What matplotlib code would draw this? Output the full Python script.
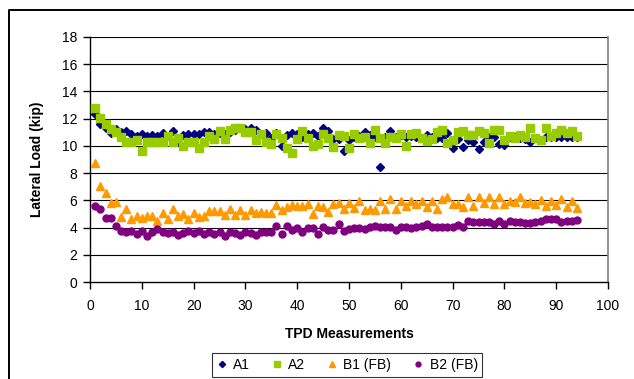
import matplotlib
matplotlib.use("Agg")
import matplotlib.pyplot as plt
from matplotlib.lines import Line2D
import numpy as np

plt.rcParams['font.family'] = ['Liberation Sans', 'DejaVu Sans']

# TPD measurement number 1..94
x = np.arange(1, 95)

a1 = [12.35, 11.6, 11.3, 10.95, 11.25, 11.05, 11.1, 10.9, 10.75, 10.85,
      10.75, 10.8, 10.7, 10.95, 10.75, 11.1, 10.3, 10.8, 10.9, 10.9,
      10.85, 11.05, 11.0, 10.85, 10.95, 10.9, 11.0, 11.2, 11.35, 11.25,
      11.3, 11.2, 10.85, 10.95, 10.6, 10.95, 10.0, 10.8, 10.95, 10.85,
      10.67, 10.84, 10.92, 10.72, 11.28, 11.11, 10.48, 10.48, 9.59, 10.43,
      10.67, 10.72, 10.99, 10.80, 10.67, 8.46, 10.63, 11.08, 10.63, 10.80,
      10.67, 10.72, 10.63, 10.55, 10.80, 10.67, 10.55, 10.55, 10.96, 9.83,
      10.48, 9.90, 10.43, 10.31, 9.76, 10.31, 10.63, 10.63, 10.14, 10.07,
      10.63, 10.63, 10.55, 10.48, 10.31, 10.55, 10.43, 10.67, 10.63, 10.67,
      10.67, 10.63, 10.67, 10.67]

a2 = [12.8, 12.03, 11.6, 11.25, 11.0, 10.66, 10.3, 10.25, 10.44, 9.66,
      10.3, 10.25, 10.3, 10.25, 10.7, 10.25, 10.56, 10.0, 10.3, 10.27,
      9.88, 10.3, 10.74, 10.49, 11.1, 10.49, 11.18, 11.35, 11.3, 11.05,
      11.0, 10.44, 10.88, 10.25, 10.12, 10.87, 10.56, 9.83, 9.46, 10.5,
      11.11, 10.55, 10.02, 10.14, 10.87, 10.55, 9.90, 10.80, 10.72, 9.83,
      10.87, 10.55, 10.67, 10.19, 11.16, 10.55, 10.19, 10.67, 10.60, 10.87,
      10.02, 10.84, 10.96, 10.55, 10.39, 10.48, 11.04, 11.20, 10.19, 10.43,
      11.04, 11.11, 10.80, 10.80, 11.11, 10.96, 10.24, 11.16, 11.20, 10.43,
      10.75, 10.60, 10.80, 10.67, 11.35, 10.55, 10.43, 11.35, 10.72, 10.96,
      11.16, 10.92, 11.11, 10.75]

b1 = [8.72, 7.04, 6.53, 5.83, 5.88, 4.75, 5.33, 4.6, 4.84, 4.67,
      4.84, 4.84, 4.5, 5.04, 4.6, 5.35, 4.87, 4.99, 4.6, 5.04,
      4.75, 4.87, 5.2, 5.2, 5.2, 4.92, 5.33, 4.92, 5.28, 4.92,
      5.28, 5.04, 5.16, 5.04, 5.04, 5.64, 5.28, 5.52, 5.64, 5.57,
      5.59, 5.71, 4.99, 5.59, 5.52, 5.11, 5.71, 5.83, 5.40, 5.83,
      5.47, 5.95, 5.28, 5.33, 5.28, 5.95, 5.40, 6.12, 5.40, 5.95,
      5.57, 5.95, 5.71, 5.95, 5.52, 5.95, 5.33, 6.12, 6.24, 5.71,
      5.76, 5.52, 6.24, 5.59, 6.24, 5.83, 6.24, 5.76, 6.24, 5.71,
      5.95, 5.88, 6.24, 5.83, 5.88, 5.76, 6.05, 5.57, 5.95, 5.64,
      6.07, 5.52, 5.95, 5.47]

b2 = [5.57, 5.33, 4.72, 4.67, 4.12, 3.78, 3.66, 3.78, 3.52, 3.78,
      3.35, 3.64, 3.88, 3.71, 3.59, 3.66, 3.47, 3.59, 3.76, 3.59,
      3.78, 3.52, 3.64, 3.52, 3.71, 3.35, 3.66, 3.59, 3.45, 3.66,
      3.59, 3.45, 3.64, 3.71, 3.71, 4.12, 3.54, 4.12, 3.83, 3.95,
      3.71, 3.95, 3.95, 3.54, 4.07, 3.83, 3.83, 4.27, 3.78, 3.88,
      3.95, 3.95, 3.88, 4.07, 4.14, 4.07, 4.07, 4.02, 3.83, 4.07,
      4.07, 3.95, 4.07, 4.14, 4.27, 4.07, 4.07, 4.02, 4.07, 4.02,
      4.19, 4.02, 4.51, 4.39, 4.39, 4.43, 4.39, 4.27, 4.51, 4.27,
      4.51, 4.39, 4.39, 4.31, 4.31, 4.43, 4.51, 4.60, 4.60, 4.60,
      4.43, 4.51, 4.51, 4.55]

fig = plt.figure(figsize=(6.34, 3.79), dpi=100)
ax = fig.add_axes([90/634, 1-282/379, 518/634, 245/379])

# gridlines
for g in range(2, 19, 2):
    ax.axhline(g, color='#000000', lw=0.8, zorder=1)

ax.plot(x, a1, 'D', color='#000080', ms=4.5, mec='#000080', label='A1', zorder=3)
ax.plot(x, a2, 's', color='#99CC00', ms=5.2, mec='#99CC00', label='A2', zorder=3)
ax.plot(x, b1, '^', color='#FF9900', ms=6, mec='#FF9900', label='B1 (FB)', zorder=3)
ax.plot(x, b2, 'o', color='#800080', ms=5, mec='#800080', label='B2 (FB)', zorder=3)

ax.set_xlim(0, 100)
ax.set_ylim(0, 18)
ax.set_xticks(range(0, 101, 10))
ax.set_yticks(range(0, 19, 2))
ax.tick_params(direction='out', length=5, width=1, labelsize=10, colors='black', pad=4)
ax.tick_params(axis='x', pad=7)

ax.spines['top'].set_visible(False)
ax.spines['right'].set_color('#808080')
ax.spines['right'].set_linewidth(1.2)
ax.spines['left'].set_linewidth(1)
ax.spines['bottom'].set_linewidth(1)

ax.set_xlabel('TPD Measurements', fontsize=10, fontweight='bold', labelpad=10)
ax.set_ylabel('Lateral Load (kip)', fontsize=10, fontweight='bold', labelpad=13)

leg = fig.legend(loc='upper center', bbox_to_anchor=(347/634, 1-353/379), ncol=4,
                 frameon=True, fancybox=False, edgecolor='black', fontsize=10,
                 markerscale=0.7, handlelength=0.8, handletextpad=0.4,
                 columnspacing=1.55, borderpad=0.35, borderaxespad=0)
leg.get_frame().set_linewidth(0.8)

# outer chart frame
fx = 9/634
fy = 1 - 10/379
fig.add_artist(Line2D([fx, fx, 1.0], [0.0, fy, fy], color='black', lw=1.4))

fig.savefig('out.png', dpi=100)
